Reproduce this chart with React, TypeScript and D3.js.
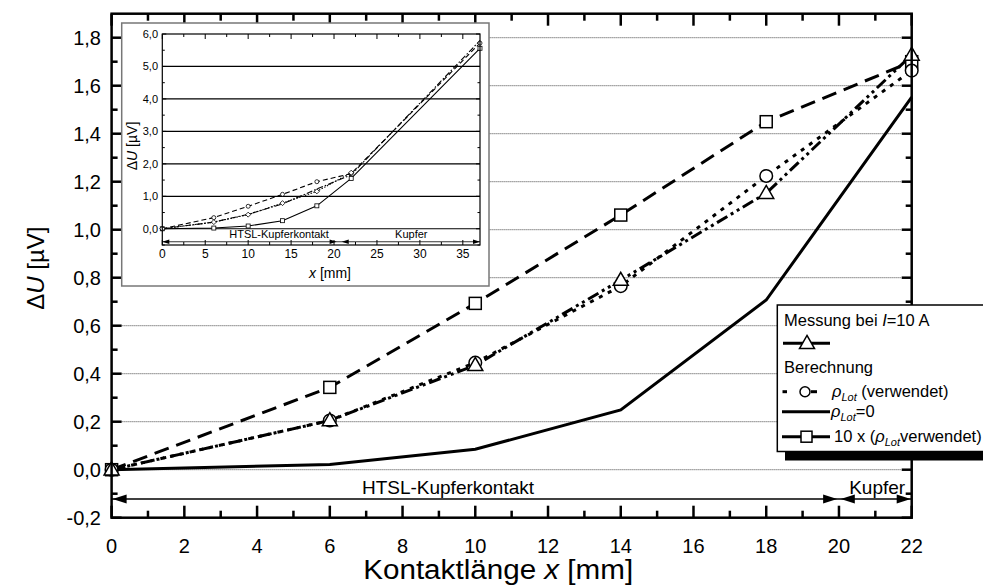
import React from 'react';
import * as d3 from 'd3';

// ---- main chart data ----
const xPos = [0, 6, 10, 14, 18, 22];
const measured = [0, 0.205, 0.435, 0.79, 1.152, 1.728];
const rhoUsed = [0, 0.205, 0.446, 0.765, 1.224, 1.663];
const rhoZero = [0, 0.022, 0.085, 0.249, 0.707, 1.552];
const tenX = [0, 0.343, 0.693, 1.061, 1.45, 1.7];

const yTicks = [-0.2, 0, 0.2, 0.4, 0.6, 0.8, 1.0, 1.2, 1.4, 1.6, 1.8];
const yGrid = [0, 0.2, 0.4, 0.6, 0.8, 1.0, 1.2, 1.4, 1.6, 1.8];
const xTicks = [0, 2, 4, 6, 8, 10, 12, 14, 16, 18, 20, 22];

// ---- inset data ----
const insetX = [0, 6, 10, 14, 18, 22, 37];
const insetUsed = [0, 0.205, 0.446, 0.765, 1.224, 1.663, 5.8];
const insetZero = [0, 0.022, 0.085, 0.249, 0.707, 1.552, 5.56];
const insetTenX = [0, 0.343, 0.693, 1.061, 1.45, 1.7, 5.72];
const insetMeasured = [0, 0.205, 0.435, 0.79, 1.152, 1.728];
const insetYTicks = [0, 1, 2, 3, 4, 5, 6];
const insetXTicks = [0, 5, 10, 15, 20, 25, 30, 35];

const FONT = "'Liberation Sans', Arial, sans-serif";
const fmt = (v: number) => d3.format('.1f')(v).replace('.', ',').replace('−', '-');

function arrowHead(tipX: number, y: number, dir: number, len: number, hw: number) {
  const p = d3.path();
  p.moveTo(tipX, y);
  p.lineTo(tipX - dir * len, y - hw);
  p.lineTo(tipX - dir * len, y + hw);
  p.closePath();
  return p.toString();
}

function Triangle({ cx, cy, s }: { cx: number; cy: number; s: number }) {
  const h = s * 0.87;
  const p = d3.path();
  p.moveTo(cx, cy - h * 0.6);
  p.lineTo(cx + s / 2, cy + h * 0.4);
  p.lineTo(cx - s / 2, cy + h * 0.4);
  p.closePath();
  return <path d={p.toString()} fill="white" stroke="black" strokeWidth={1.5} />;
}

export default function App() {
  // main scales
  const x = d3.scaleLinear().domain([0, 22]).range([111.6, 911.7]);
  const y = d3.scaleLinear().domain([-0.2, 1.9]).range([517.7, 13.7]);
  const line = (vals: number[]) =>
    d3.line<number>().x((_, i) => x(xPos[i])).y((v) => y(v))(vals) || '';

  // inset scales
  const ix = d3.scaleLinear().domain([0, 37]).range([162.3, 480]);
  const iy = d3.scaleLinear().domain([-0.5, 6]).range([245, 34]);
  const iline = (xs: number[], vals: number[]) =>
    d3.line<number>().x((_, i) => ix(xs[i])).y((v) => iy(v))(vals) || '';

  const [x0, x1] = x.range();
  const [yb, yt] = y.range();
  const [ix0, ix1] = ix.range();
  const [iyb, iyt] = iy.range();

  const minorY = d3.range(-0.2, 1.9, 0.1).map((v) => Math.round(v * 10) / 10);
  const minorX = d3.range(0, 23, 1);
  const iMinorY = d3.range(-0.5, 6.01, 0.5);
  const iMinorX = d3.range(0, 37, 2.5);

  const arrowY = y(-0.122);
  const iArrowY = iy(-0.4);

  return (
    <svg width={983} height={588} style={{ position: 'absolute', left: 0, top: 0, background: 'white' }} fontFamily={FONT}>
      <rect width={983} height={588} fill="white" />
      {/* gridlines */}
      {yGrid.map((v) => (
        <line key={'g' + v} x1={x0} x2={x1 - 10} y1={y(v)} y2={y(v)} stroke="#444" strokeWidth={1} strokeDasharray="1,1" />
      ))}

      {/* ticks main */}
      {minorY.map((v, i) => {
        const major = i % 2 === 0;
        const l = major ? 10 : 6;
        return (
          <g key={'yt' + i}>
            <line x1={x0} x2={x0 + l} y1={y(v)} y2={y(v)} stroke="black" strokeWidth={2.5} />
            <line x1={x1} x2={x1 - l} y1={y(v)} y2={y(v)} stroke="black" strokeWidth={2.5} />
          </g>
        );
      })}
      {minorX.map((v) => {
        const major = v % 2 === 0;
        const l = major ? 12 : 7;
        return (
          <g key={'xt' + v}>
            <line x1={x(v)} x2={x(v)} y1={yb} y2={yb - l} stroke="black" strokeWidth={2.5} />
            <line x1={x(v)} x2={x(v)} y1={yt} y2={yt + l} stroke="black" strokeWidth={2.5} />
          </g>
        );
      })}

      {/* tick labels */}
      {yTicks.map((v) => (
        <text key={'yl' + v} x={101} y={y(v) + 7.5} textAnchor="end" fontSize={20}>
          {fmt(v)}
        </text>
      ))}
      {xTicks.map((v) => (
        <text key={'xl' + v} x={x(v)} y={553} textAnchor="middle" fontSize={20}>
          {v}
        </text>
      ))}

      {/* axis titles */}
      <text x={x(10.63)} y={579} textAnchor="middle" fontSize={27} textLength={270} lengthAdjust="spacingAndGlyphs">
        Kontaktlänge <tspan fontStyle="italic">x</tspan> [mm]
      </text>
      <text transform={`translate(44,${y(0.84)}) rotate(-90)`} textAnchor="middle" fontSize={24}>
        Δ<tspan fontStyle="italic">U</tspan> [µV]
      </text>

      {/* annotation arrows */}
      <line x1={x(0)} x2={x(22)} y1={arrowY} y2={arrowY} stroke="black" strokeWidth={1.5} />
      <path d={arrowHead(x(0) + 1, arrowY, -1, 14, 4.5)} fill="black" />
      <path d={arrowHead(x(19.95), arrowY, 1, 14, 4.5)} fill="black" />
      <path d={arrowHead(x(20.05), arrowY, -1, 14, 4.5)} fill="black" />
      <path d={arrowHead(x(22) - 1, arrowY, 1, 14, 4.5)} fill="black" />
      <text x={x(9.25)} y={y(-0.1)} textAnchor="middle" fontSize={19}>HTSL-Kupferkontakt</text>
      <text x={x(21.05)} y={y(-0.1)} textAnchor="middle" fontSize={19}>Kupfer</text>

      {/* series lines */}
      <path d={line(rhoZero)} fill="none" stroke="black" strokeWidth={3} />
      <path d={line(tenX)} fill="none" stroke="black" strokeWidth={3} strokeDasharray="15,8" />
      <path d={line(measured)} fill="none" stroke="black" strokeWidth={3} strokeDasharray="12,4,3,4,3,4" />
      <path d={line(rhoUsed)} fill="none" stroke="black" strokeWidth={3} strokeDasharray="4,6" />

      {/* markers */}
      {tenX.map((v, i) => (
        <rect key={'sq' + i} x={x(xPos[i]) - 6} y={y(v) - 6} width={12} height={12} fill="white" stroke="black" strokeWidth={1.5} />
      ))}
      {rhoUsed.map((v, i) => (
        <circle key={'c' + i} cx={x(xPos[i])} cy={y(v)} r={6.3} fill="white" stroke="black" strokeWidth={1.5} />
      ))}
      {measured.map((v, i) => (
        <Triangle key={'t' + i} cx={x(xPos[i])} cy={y(v)} s={15} />
      ))}

      {/* frame */}
      <rect x={x0} y={yt} width={x1 - x0} height={yb - yt} fill="none" stroke="black" strokeWidth={2.5} />

      {/* ---------- inset ---------- */}
      <rect x={121.7} y={23} width={367.3} height={263} fill="white" stroke="#777" strokeWidth={1.5} />
      {insetYTicks.slice(0, 6).map((v) => (
        <line key={'ig' + v} x1={ix0} x2={ix1} y1={iy(v)} y2={iy(v)} stroke="black" strokeWidth={1.2} />
      ))}
      {iMinorY.map((v, i) => {
        const l = i % 2 === 1 ? 4 : 2.5;
        return (
          <g key={'iyt' + i}>
            <line x1={ix0} x2={ix0 + l} y1={iy(v)} y2={iy(v)} stroke="black" strokeWidth={1} />
            <line x1={ix1} x2={ix1 - l} y1={iy(v)} y2={iy(v)} stroke="black" strokeWidth={1} />
          </g>
        );
      })}
      {iMinorX.map((v, i) => {
        const l = i % 2 === 0 ? 5 : 3;
        return (
          <g key={'ixt' + i}>
            <line x1={ix(v)} x2={ix(v)} y1={iyb} y2={iyb - l} stroke="black" strokeWidth={1} />
            <line x1={ix(v)} x2={ix(v)} y1={iyt} y2={iyt + l} stroke="black" strokeWidth={1} />
          </g>
        );
      })}
      {insetYTicks.map((v) => (
        <text key={'iyl' + v} x={158} y={iy(v) + 4} textAnchor="end" fontSize={11}>
          {fmt(v)}
        </text>
      ))}
      {insetXTicks.map((v) => (
        <text key={'ixl' + v} x={ix(v)} y={258} textAnchor="middle" fontSize={12}>
          {v}
        </text>
      ))}
      <text x={330} y={278} textAnchor="middle" fontSize={14}>
        <tspan fontStyle="italic">x</tspan> [mm]
      </text>
      <text transform={`translate(137,146) rotate(-90)`} textAnchor="middle" fontSize={14}>
        Δ<tspan fontStyle="italic">U</tspan> [µV]
      </text>

      {/* inset annotations */}
      <line x1={ix(0)} x2={ix(37)} y1={iArrowY} y2={iArrowY} stroke="black" strokeWidth={0.8} />
      <path d={arrowHead(ix(0), iArrowY, -1, 7, 2.2)} fill="black" />
      <path d={arrowHead(ix(20.3), iArrowY, 1, 7, 2.2)} fill="black" />
      <path d={arrowHead(ix(20.9), iArrowY, -1, 7, 2.2)} fill="black" />
      <path d={arrowHead(ix(37), iArrowY, 1, 7, 2.2)} fill="black" />
      <text x={ix(13.6)} y={iy(-0.27)} textAnchor="middle" fontSize={11}>HTSL-Kupferkontakt</text>
      <text x={ix(29)} y={iy(-0.27)} textAnchor="middle" fontSize={11}>Kupfer</text>

      {/* inset lines */}
      <path d={iline(insetX, insetZero)} fill="none" stroke="black" strokeWidth={1.1} />
      <path d={iline(insetX, insetTenX)} fill="none" stroke="black" strokeWidth={1.1} strokeDasharray="5,3" />
      <path d={iline(insetX, insetUsed)} fill="none" stroke="black" strokeWidth={1.1} strokeDasharray="6,2,1.5,2" />
      <path d={iline(xPos, insetMeasured)} fill="none" stroke="black" strokeWidth={1.1} strokeDasharray="1.5,1.5" />
      {insetZero.map((v, i) => (
        <rect key={'isq' + i} x={ix(insetX[i]) - 2} y={iy(v) - 2} width={4} height={4} fill="white" stroke="black" strokeWidth={0.8} />
      ))}
      {insetTenX.map((v, i) => (
        <circle key={'ic' + i} cx={ix(insetX[i])} cy={iy(v)} r={2} fill="white" stroke="black" strokeWidth={0.8} />
      ))}
      {insetMeasured.map((v, i) => (
        <path key={'idm' + i} d={`M${ix(xPos[i])},${iy(v) - 2.5}l2.5,2.5l-2.5,2.5l-2.5,-2.5z`} fill="white" stroke="black" strokeWidth={0.8} />
      ))}
      <rect x={ix0} y={iyt} width={ix1 - ix0} height={iyb - iyt} fill="none" stroke="black" strokeWidth={1.2} />

      {/* ---------- legend ---------- */}
      <rect x={785} y={451} width={220} height={9.5} fill="black" />
      <rect x={777.3} y={305} width={230} height={146.5} fill="white" stroke="black" strokeWidth={1.5} />
      <g fontSize={16.5}>
        <text x={784} y={325.7}>
          Messung bei <tspan fontStyle="italic">I</tspan>=10 A
        </text>
        <line x1={783} x2={830} y1={343.3} y2={343.3} stroke="black" strokeWidth={3} />
        <Triangle cx={807} cy={343.3} s={15} />
        <text x={784} y={373.3}>Berechnung</text>

        <line x1={782.5} x2={787} y1={391.7} y2={391.7} stroke="black" strokeWidth={3} />
        <line x1={811} x2={817} y1={391.7} y2={391.7} stroke="black" strokeWidth={3} />
        <circle cx={805} cy={391.7} r={5} fill="white" stroke="black" strokeWidth={1.5} />
        <text x={832} y={396.7}>
          <tspan fontStyle="italic">ρ</tspan>
          <tspan fontStyle="italic" fontSize={11} dy={4}>Lot</tspan>
          <tspan dy={-4}> (verwendet)</tspan>
        </text>

        <line x1={782} x2={830} y1={411.7} y2={411.7} stroke="black" strokeWidth={3} />
        <text x={831} y={416.7}>
          <tspan fontStyle="italic">ρ</tspan>
          <tspan fontStyle="italic" fontSize={11} dy={4}>Lot</tspan>
          <tspan dy={-4}>=0</tspan>
        </text>

        <line x1={782} x2={830} y1={436.7} y2={436.7} stroke="black" strokeWidth={3} />
        <rect x={801} y={431.2} width={11} height={11} fill="white" stroke="black" strokeWidth={1.5} />
        <text x={834} y={441.7}>
          10 x (<tspan fontStyle="italic">ρ</tspan>
          <tspan fontStyle="italic" fontSize={11} dy={4}>Lot</tspan>
          <tspan dy={-4}>verwendet)</tspan>
        </text>
      </g>
    </svg>
  );
}
